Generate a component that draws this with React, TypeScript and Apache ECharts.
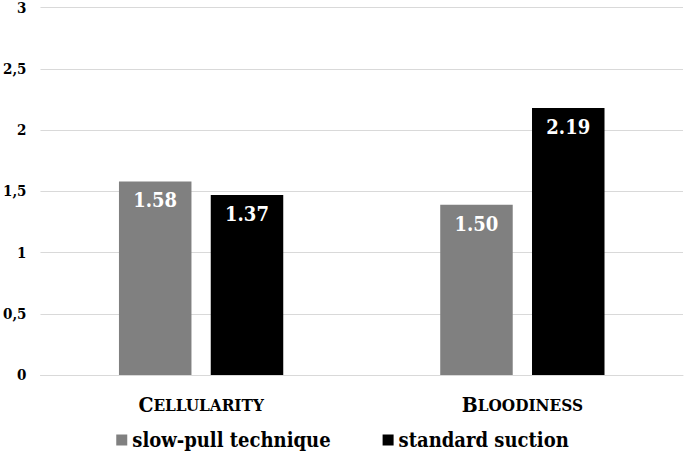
import React, { useEffect, useRef } from "react";
import * as echarts from "echarts";

const categories = ["Cellularity", "Bloodiness"];
const seriesNames = ["slow-pull technique", "standard suction"];
// bar heights as drawn
const slowPullValues = [1.58, 1.39];
const standardValues = [1.47, 2.18];
// printed value labels
const slowPullLabels = ["1.58", "1.50"];
const standardLabels = ["1.37", "2.19"];
const yTicks = [0, 0.5, 1, 1.5, 2, 2.5, 3];

const FONT = "DejaVu Serif Condensed";

export default function App() {
  const ref = useRef<HTMLDivElement>(null);
  useEffect(() => {
    if (!ref.current) return;
    const chart = echarts.init(ref.current, null, { renderer: "svg" });
    const mkLabel = (labels: string[]) => ({
      show: true,
      position: "insideTop",
      distance: 9,
      color: "#ffffff",
      fontFamily: FONT,
      fontWeight: "bold",
      fontSize: 20,
      formatter: (p: any) => labels[p.dataIndex],
    });
    chart.setOption({
      animation: false,
      backgroundColor: "#ffffff",
      grid: { left: 38, right: 2, top: 7, height: 368, containLabel: false },
      legend: {
        left: "center",
        top: 425,
        icon: "rect",
        itemWidth: 11,
        itemHeight: 11,
        itemGap: 52,
        textStyle: { fontFamily: FONT, fontWeight: "bold", fontSize: 20, color: "#000" },
        data: seriesNames,
      },
      xAxis: {
        type: "category",
        data: categories,
        axisLine: { show: true, lineStyle: { color: "#d9d9d9" } },
        axisTick: { show: false },
        axisLabel: {
          margin: 19,
          formatter: (v: string) => `{a|${v.charAt(0).toUpperCase()}}{b|${v.slice(1).toUpperCase()}}`,
          rich: {
            a: { fontFamily: FONT, fontWeight: "bold", fontSize: 21, color: "#000" },
            b: { fontFamily: FONT, fontWeight: "bold", fontSize: 17, color: "#000" },
          },
        },
      },
      yAxis: {
        type: "value",
        min: yTicks[0],
        max: yTicks[yTicks.length - 1],
        interval: 0.5,
        axisLine: { show: false },
        axisTick: { show: false },
        splitLine: { lineStyle: { color: "#d9d9d9", width: 1 } },
        axisLabel: {
          margin: 14,
          fontFamily: FONT,
          fontWeight: "bold",
          fontSize: 15,
          color: "#000",
          formatter: (v: number) => String(v).replace(".", ","),
        },
      },
      series: [
        {
          name: seriesNames[0],
          type: "bar",
          data: slowPullValues,
          barWidth: 72.5,
          barGap: "26.6%",
          itemStyle: { color: "#808080" },
          label: mkLabel(slowPullLabels),
        },
        {
          name: seriesNames[1],
          type: "bar",
          data: standardValues,
          barWidth: 72.5,
          barGap: "26.6%",
          itemStyle: { color: "#000000" },
          label: mkLabel(standardLabels),
        },
      ],
    });
    return () => chart.dispose();
  }, []);
  return (
    <div
      ref={ref}
      style={{ position: "fixed", left: 0, top: 0, width: 685, height: 453 }}
    />
  );
}
